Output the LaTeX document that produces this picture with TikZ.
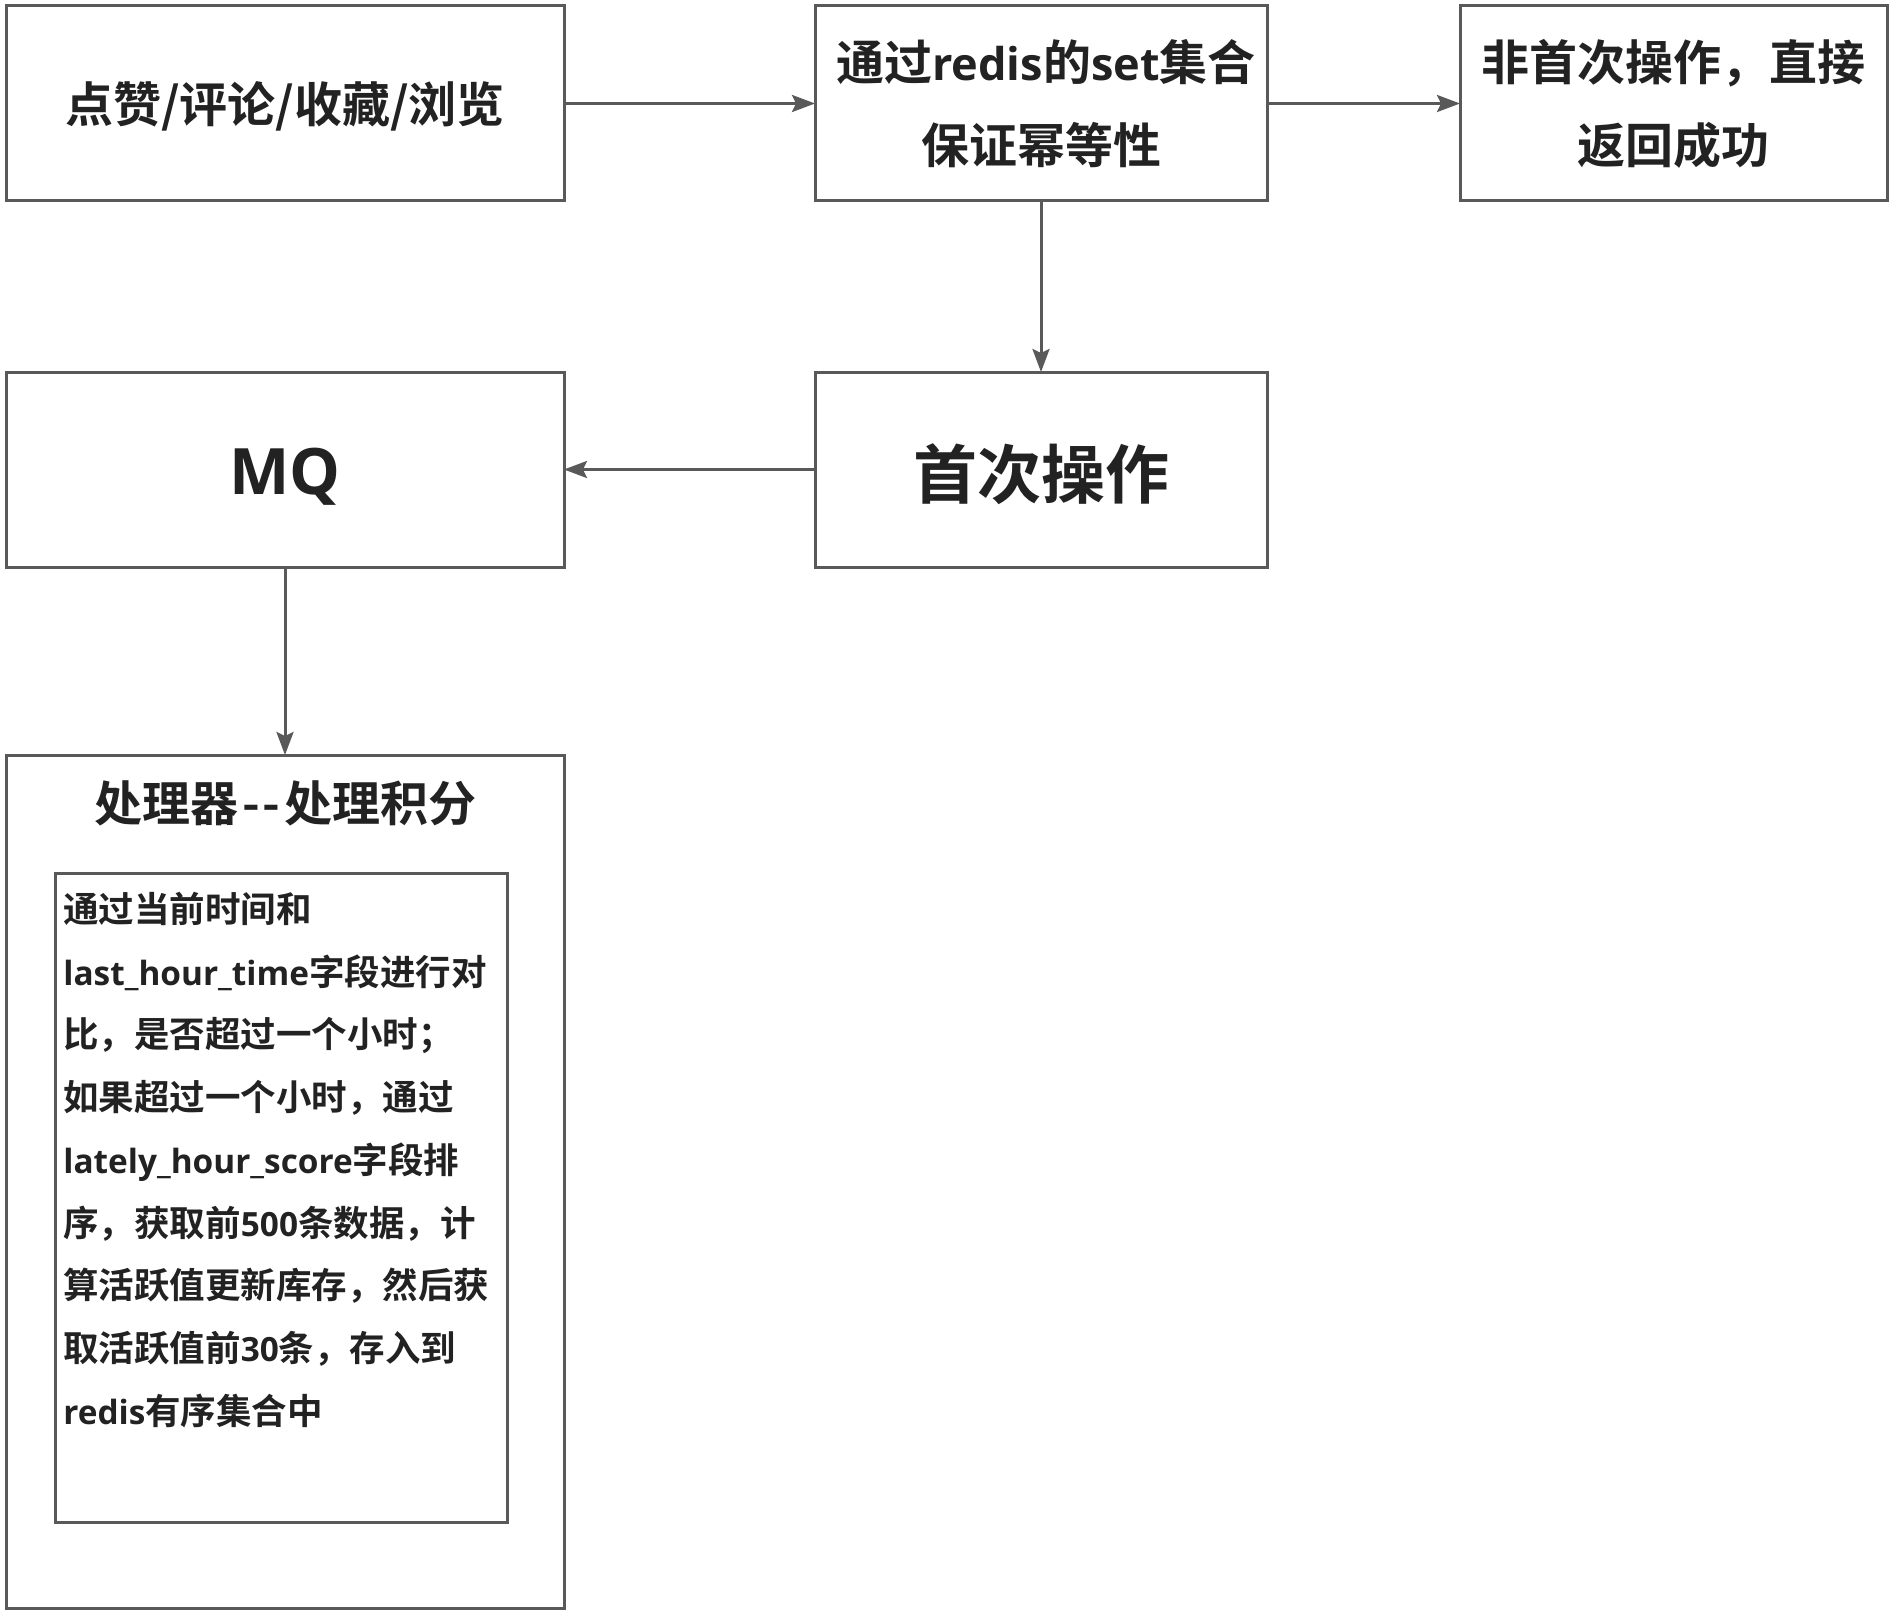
\documentclass[tikz,border=0pt]{standalone}
\usepackage{fontspec}
\setmainfont{Noto Sans CJK SC}[BoldFont={Noto Sans CJK SC Bold}]
\newfontfamily\latfont{Open Sans}[BoldFont={Open Sans Bold}, Scale=0.94]
\newfontfamily\mqfont{Open Sans}[BoldFont={Open Sans Bold}]
\newcommand{\lat}[1]{{\latfont\bfseries #1}}
\newcommand{\lowr}[2]{\raisebox{-#1}[\height][\depth]{#2}}
\usetikzlibrary{arrows.meta}
\definecolor{linegray}{HTML}{595959}
\definecolor{textdark}{HTML}{222222}
\tikzset{
  box/.style={draw=linegray, line width=1.5pt, rectangle, inner sep=0pt, outer sep=0pt, align=center, text=textdark},
  arr/.style={draw=linegray, line width=1.5pt, -{Stealth[length=11.5pt, width=8.5pt, inset=2pt]}},
  bigtext/.style={font=\bfseries\fontsize{24pt}{41.5pt}\selectfont},
  hugetext/.style={font=\bfseries\fontsize{32pt}{40pt}\selectfont},
  linetext/.style={anchor=base west, inner sep=0pt, text=textdark, font=\bfseries\fontsize{17.75pt}{20pt}\selectfont}
}
\begin{document}
\begin{tikzpicture}[x=0.5pt, y=-0.5pt]
\useasboundingbox (0,0) rectangle (1897,1611);
\fill[white] (0,0) rectangle (1897,1611);
% top row
\node[box, bigtext, minimum width=279pt, minimum height=97.5pt] (b1) at (285,103.5) {\lowr{1.2pt}{点赞/评论/收藏/浏览}};
\node[box, bigtext, minimum width=226pt, minimum height=97.5pt] (b2) at (1041,103.5) {\hspace*{5pt}通过\lat{redis}的\lat{set}集合\\保证幂等性};
\node[box, bigtext, minimum width=213.5pt, minimum height=97.5pt] (b3) at (1673.5,103.5) {非首次操作，直接\\返回成功};
% second row
\node[box, hugetext, minimum width=279pt, minimum height=97.5pt] (mq) at (285,469.5) {\lowr{3.5pt}{\mqfont\bfseries MQ}};
\node[box, hugetext, minimum width=226pt, minimum height=97.5pt] (first) at (1041,469.5) {\lowr{2.5pt}{首次操作}};
% processor
\node[box, minimum width=279pt, minimum height=426.5pt] (proc) at (285,1181.5) {};
\node[inner sep=0pt, text=textdark, font=\bfseries\fontsize{24pt}{30pt}\selectfont] (title) at (285.5,803) {处理器\kern2pt-\kern1.5pt-\kern2pt处理积分};
\node[box, minimum width=226pt, minimum height=324.5pt] (inner) at (281,1197.5) {};
\foreach \t [count=\i] in {
  {通过当前时间和},
  {\lat{last\_hour\_time}字段进行对},
  {比，是否超过一个小时；},
  {如果超过一个小时，通过},
  {\lat{lately\_hour\_score}字段排},
  {序，获取前\lat{500}条数据，计},
  {算活跃值更新库存，然后获},
  {取活跃值前\lat{30}条，存入到},
  {\lat{redis}有序集合中}}
  \node[linetext] (l\i) at (63,{922.5+62.7*(\i-1)}) {\t};
% connectors
\draw[arr] (b1) -- (b2);
\draw[arr] (b2) -- (b3);
\draw[arr] (b2) -- (first);
\draw[arr] (first) -- (mq);
\draw[arr] (mq) -- (proc);
\end{tikzpicture}
\end{document}
